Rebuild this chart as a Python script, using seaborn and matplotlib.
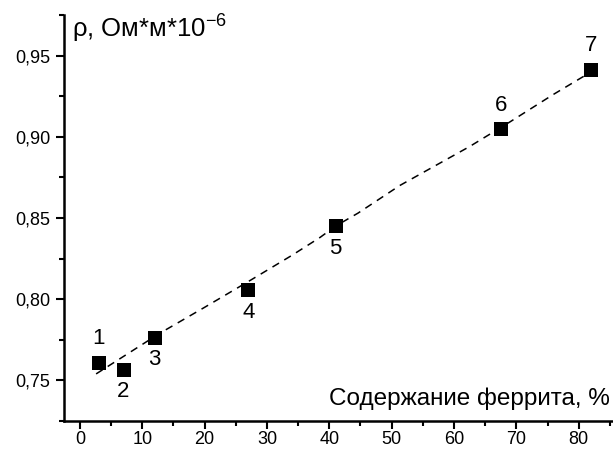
import matplotlib
matplotlib.use("Agg")
import matplotlib.pyplot as plt
import seaborn as sns
import pandas as pd
from matplotlib.ticker import MultipleLocator, FuncFormatter

# data
ferrite = [3, 7, 12, 27, 41, 67.6, 82]
rho = [0.761, 0.7566, 0.7764, 0.8056, 0.845, 0.9047, 0.9414]
point_labels = ["1", "2", "3", "4", "5", "6", "7"]
label_side = ["above", "below", "below", "below", "below", "above", "above"]

fit_x = [2.6, 12.8, 20, 27.5, 34, 38.5, 41, 44.6, 51.3, 62.5, 68.9, 75.9, 82]
fit_y = [0.754, 0.779, 0.795, 0.812, 0.827, 0.838, 0.845, 0.853, 0.870, 0.894, 0.909, 0.926, 0.940]

x_title = "Содержание феррита, %"
y_title = r"ρ, Ом*м*10$^{-6}$"

sns.set_theme(style="ticks")
plt.rcParams["font.family"] = ["Liberation Sans", "DejaVu Sans"]
plt.rcParams["mathtext.fontset"] = "custom"
plt.rcParams["mathtext.rm"] = "Liberation Sans"
plt.rcParams["mathtext.it"] = "Liberation Sans"
plt.rcParams["text.color"] = "black"

fig = plt.figure(figsize=(6.13, 4.5), dpi=100)
ax = fig.add_axes([64 / 613, 1 - 421 / 450, 1 - 64 / 613 - 0.001, (421 - 15) / 450])

df_pts = pd.DataFrame({"x": ferrite, "y": rho})
df_fit = pd.DataFrame({"x": fit_x, "y": fit_y})

sns.lineplot(data=df_fit, x="x", y="y", ax=ax, color="black", lw=1.1,
             linestyle=(0, (5, 4)), sort=False)
sns.scatterplot(data=df_pts, x="x", y="y", ax=ax, marker="s", s=100,
                color="black", edgecolor="black", linewidth=0, zorder=3)

for xv, yv, lab, side in zip(ferrite, rho, point_labels, label_side):
    dy = 17 if side == "above" else -16
    ax.annotate(lab, (xv, yv), xytext=(0, dy), textcoords="offset points",
                ha="center", va="center", fontsize=16, color="black")

ax.set_xlim(-2.55, 85.4)
ax.set_ylim(0.725, 0.975)
ax.xaxis.set_major_locator(MultipleLocator(10))
ax.xaxis.set_minor_locator(MultipleLocator(5))
ax.yaxis.set_major_locator(MultipleLocator(0.05))
ax.yaxis.set_minor_locator(MultipleLocator(0.025))
ax.yaxis.set_major_formatter(FuncFormatter(lambda v, p: f"{v:.2f}".replace(".", ",")))
ax.set_yticks([0.75, 0.80, 0.85, 0.90, 0.95])

ax.tick_params(which="major", direction="out", length=6, width=1.5, labelsize=13,
               color="black", labelcolor="black")
ax.tick_params(axis="x", which="major", pad=1.5)
ax.tick_params(axis="y", which="major", pad=4)
ax.tick_params(which="minor", direction="out", length=3.5, width=1.5, color="black")

for s in ["top", "right"]:
    ax.spines[s].set_visible(False)
for s in ["left", "bottom"]:
    ax.spines[s].set_linewidth(1.8)
    ax.spines[s].set_color("black")

ax.set_xlabel("")
ax.set_ylabel("")
ax.text(0.995, 0.04, x_title, transform=ax.transAxes, ha="right", va="baseline",
        fontsize=17.5, color="black")
ax.text(0.015, 0.945, y_title, transform=ax.transAxes, ha="left", va="baseline",
        fontsize=18.5, color="black")

fig.savefig("out.png", dpi=100)
